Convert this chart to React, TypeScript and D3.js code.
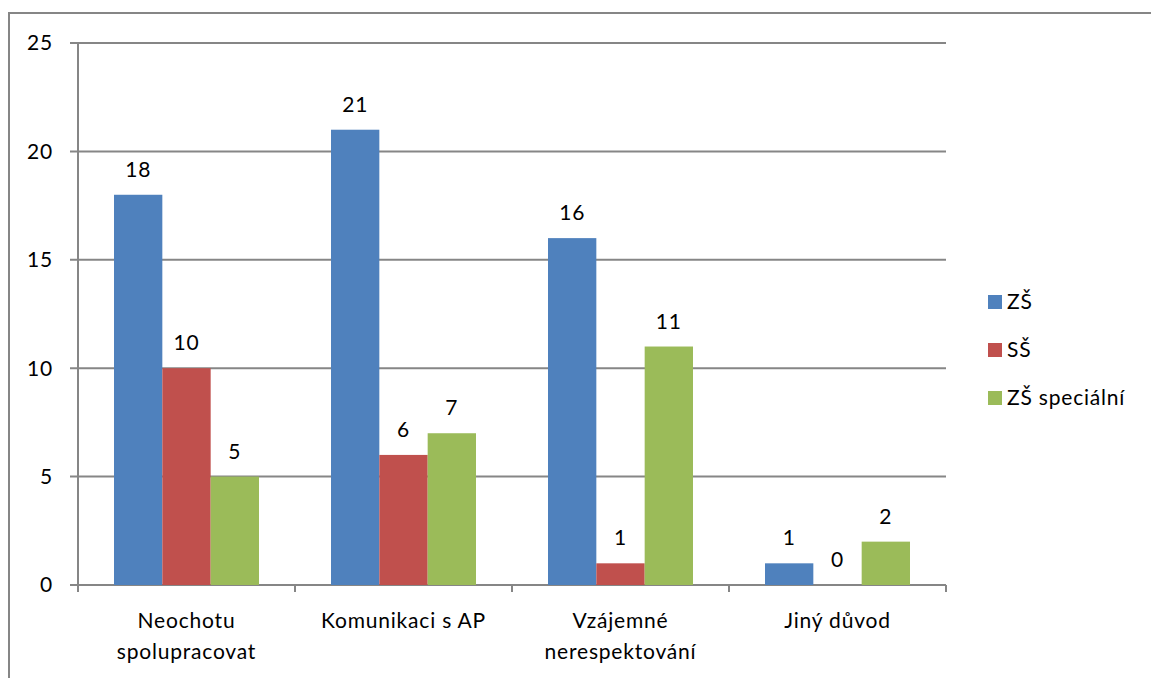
import React from "react";
import * as d3 from "d3";

const categories: string[][] = [
  ["Neochotu", "spolupracovat"],
  ["Komunikaci s AP"],
  ["Vzájemné", "nerespektování"],
  ["Jiný důvod"],
];
const seriesNames = ["ZŠ", "SŠ", "ZŠ speciální"];
const zsValues = [18, 21, 16, 1];
const ssValues = [10, 6, 1, 0];
const zsSpecValues = [5, 7, 11, 2];
const yTicks = [0, 5, 10, 15, 20, 25];
const colors = ["#4F81BD", "#C0504D", "#9BBB59"];

const FONT = "Lato, 'Open Sans', sans-serif";

export default function App() {
  const W = 1151, H = 678;
  const left = 78, right = 946, top = 43, bottom = 585;
  const series = [zsValues, ssValues, zsSpecValues];
  const x0 = d3.scaleBand<number>().domain(d3.range(categories.length)).range([left, right]).padding(0);
  const bw = x0.bandwidth();
  const pad = bw * (36 / 217);
  const x1 = d3.scaleBand<number>().domain(d3.range(series.length)).range([pad, bw - pad]).padding(0);
  const y = d3.scaleLinear().domain([0, 25]).range([bottom, top]);
  const grid = "#868686";
  const fs = 21;
  const ls = 0.8;

  return (
    <svg width={W} height={H} style={{ position: "absolute", left: 0, top: 0, background: "#fff" }}
      fontFamily={FONT}>
      <rect x={9} y={13} width={1200} height={700} fill="none" stroke={grid} strokeWidth={2} />
      {yTicks.map((t) => (
        <g key={t}>
          <line x1={left - 8} x2={right} y1={y(t)} y2={y(t)} stroke={grid} strokeWidth={2} />
          <text x={53} y={y(t)} dy="0.35em" textAnchor="end" fontSize={fs} letterSpacing={ls} fill="#000">{t}</text>
        </g>
      ))}
      <line x1={left} x2={left} y1={top} y2={bottom} stroke={grid} strokeWidth={2} />
      {d3.range(categories.length + 1).map((i) => {
        const xx = i < categories.length ? x0(i)! : right;
        return <line key={i} x1={xx} x2={xx} y1={bottom} y2={bottom + 7} stroke={grid} strokeWidth={2} />;
      })}
      {series.map((vals, s) =>
        vals.map((v, i) => {
          const bx = x0(i)! + x1(s)!;
          return (
            <g key={`${s}-${i}`}>
              {v > 0 && (
                <rect x={bx} y={y(v)} width={x1.bandwidth()} height={y(0) - y(v)} fill={colors[s]} />
              )}
              <text x={bx + x1.bandwidth() / 2} y={y(v) - 18} textAnchor="middle" fontSize={fs} letterSpacing={ls} fill="#000">{v}</text>
            </g>
          );
        })
      )}
      {categories.map((lines, i) => (
        <text key={i} x={x0(i)! + bw / 2} y={628} textAnchor="middle" fontSize={fs} letterSpacing={ls} fill="#000">
          {lines.map((l, k) => (
            <tspan key={k} x={x0(i)! + bw / 2} dy={k === 0 ? 0 : 31}>{l}</tspan>
          ))}
        </text>
      ))}
      {seriesNames.map((n, s) => (
        <g key={n} transform={`translate(988, ${302 + s * 48})`}>
          <rect x={0} y={-7} width={14} height={14} fill={colors[s]} />
          <text x={19} y={0} dy="0.35em" fontSize={fs} letterSpacing={ls} fill="#000">{n}</text>
        </g>
      ))}
    </svg>
  );
}
